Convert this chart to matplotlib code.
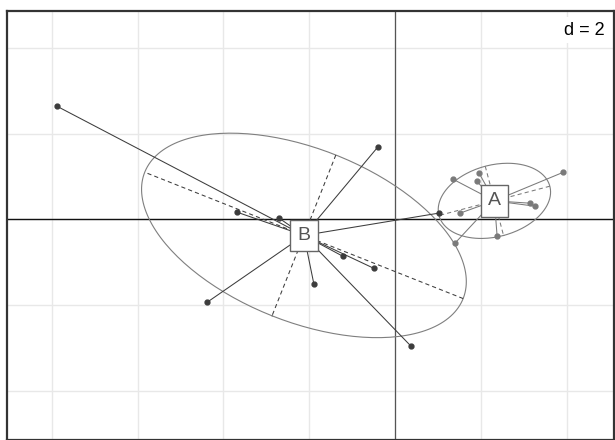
import numpy as np
import matplotlib.pyplot as plt

plt.rcParams['font.family'] = ['Liberation Sans', 'DejaVu Sans']

# group A points (coordinates on axis 1 / axis 2)
a_x = [1.35, 1.96, 1.91, 1.52, 1.40, 2.38, 3.92, 3.15, 3.26]
a_y = [0.94, 1.08, 0.89, 0.15, -0.55, -0.39, 1.10, 0.38, 0.31]
# group B points
b_x = [-7.88, -0.40, -3.68, -2.70, -1.21, -0.49, -1.89, -4.38, 0.37, 1.03]
b_y = [2.64, 1.69, 0.17, 0.03, -0.86, -1.14, -1.51, -1.93, -2.95, 0.15]

groups = {'A': (a_x, a_y, '#7a7a7a'), 'B': (b_x, b_y, '#3c3c3c')}
cellipse = 1.5

fig = plt.figure(figsize=(6.15, 4.4), dpi=100)
ax = fig.add_axes([7 / 615, 0, 607 / 615, 429 / 440])
ax.set_xlim(-9.04, 5.10)
ax.set_ylim(-5.14, 4.86)
ax.set_aspect('equal')

# grid
for gx in np.arange(-8, 6, 2):
    ax.axvline(gx, color='#e8e8e8', lw=1, zorder=0)
for gy in np.arange(-4, 6, 2):
    ax.axhline(gy, color='#e8e8e8', lw=1, zorder=0)
ax.axhline(0, color='#111111', lw=1, zorder=1)
ax.axvline(0, color='#555555', lw=0.9, zorder=1)

ax.set_xticks([])
ax.set_yticks([])
for s in ax.spines.values():
    s.set_color('#333333')
    s.set_linewidth(1.6)

t = np.linspace(0, 2 * np.pi, 200)
for name, (xs, ys, col) in groups.items():
    x = np.array(xs)
    y = np.array(ys)
    cx, cy = x.mean(), y.mean()
    # ellipse from (population) covariance, as ade4 s.class
    cov = np.cov(np.vstack([x, y]), bias=True)
    vals, vecs = np.linalg.eigh(cov)
    r = cellipse * np.sqrt(vals)
    ex = cx + r[0] * np.cos(t) * vecs[0, 0] + r[1] * np.sin(t) * vecs[0, 1]
    ey = cy + r[0] * np.cos(t) * vecs[1, 0] + r[1] * np.sin(t) * vecs[1, 1]
    ax.plot(ex, ey, color='#7f7f7f', lw=0.8, zorder=2)
    for k in range(2):
        ax.plot([cx - r[k] * vecs[0, k], cx + r[k] * vecs[0, k]],
                [cy - r[k] * vecs[1, k], cy + r[k] * vecs[1, k]],
                color=col, lw=0.75, ls=(0, (4, 3)), zorder=2)
    # stars
    for px, py in zip(x, y):
        ax.plot([cx, px], [cy, py], color=col, lw=0.75, zorder=3)
    ax.plot(x, y, 'o', color=col, ms=3.5, zorder=4)
    ax.text(cx, cy, name, ha='center', va='center', fontsize=14, color='#555555',
            bbox=dict(boxstyle='square,pad=0.38', fc='white', ec='#666666', lw=1),
            zorder=5)

ax.text(0.985, 0.975, 'd = 2', transform=ax.transAxes, ha='right', va='top',
        fontsize=13, color='black',
        bbox=dict(boxstyle='square,pad=0.25', fc='white', ec='none'), zorder=6)

fig.savefig('out.png', dpi=100)
